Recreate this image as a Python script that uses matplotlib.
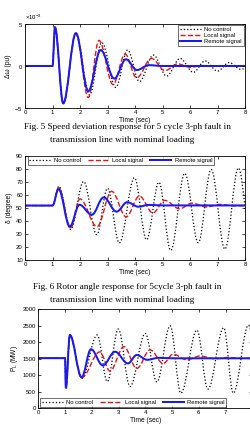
import matplotlib
matplotlib.use('Agg')
import matplotlib.pyplot as plt
from matplotlib.path import Path
from matplotlib.patches import PathPatch
from matplotlib.lines import Line2D
from matplotlib.ticker import ScalarFormatter

plt.rcParams['font.family'] = ['Liberation Sans', 'DejaVu Sans']
plt.rcParams['mathtext.fontset'] = 'custom'
plt.rcParams['mathtext.rm'] = 'Liberation Sans'
plt.rcParams['mathtext.it'] = 'Liberation Sans:italic'

# turning points (time, value)
# Fig. 5 speed deviation (x 1e-3 pu)
dw_nc_t = [0, 1.0, 1.09, 1.39, 1.85, 2.35, 2.79, 3.3, 3.73, 4.16, 4.67, 5.15, 5.64, 6.12, 6.55, 7.0, 7.42, 7.85, 8.3]
dw_nc_v = [0, 0, 4.6, -4.45, 3.9, -3.45, 2.8, -2.55, 1.9, -1.85, 1.3, -1.2, 0.9, -0.75, 0.6, -0.6, 0.4, -0.4, 0.3]
dw_loc_t = [0, 1.0, 1.09, 1.39, 1.85, 2.3, 2.69, 3.2, 3.64, 4.06, 4.6, 5.09, 5.55, 6.0, 6.5, 7.0, 8.3]
dw_loc_v = [0, 0, 4.6, -4.45, 3.9, -3.75, 3.05, -2.2, 1.4, -1.4, 0.9, -0.55, 0.25, -0.15, 0.05, 0, 0]
dw_rem_t = [0, 1.0, 1.09, 1.39, 1.85, 2.3, 2.75, 3.25, 3.67, 4.07, 4.5, 5.0, 8.3]
dw_rem_v = [0, 0, 4.6, -4.45, 3.9, -3.0, 1.9, -1.5, 0.8, -0.48, 0.1, 0, 0]

# Fig. 6 rotor angle (degree)
d_nc_t = [0, 1.0, 1.23, 1.66, 2.13, 2.61, 3.0, 3.43, 3.98, 4.42, 4.87, 5.3, 5.81, 6.3, 6.77, 7.27, 7.76, 8.25]
d_nc_v = [51.7, 51.7, 66.5, 33.2, 70.3, 29.2, 65, 22.8, 73.2, 25.3, 69.7, 17, 76.6, 23, 79.6, 18, 80.7, 17]
d_loc_t = [0, 1.0, 1.23, 1.65, 2.0, 2.62, 3.15, 3.68, 4.16, 4.65, 5.08, 5.62, 6.07, 6.6, 7.1, 7.6, 8.3]
d_loc_v = [51.7, 51.7, 65.5, 34.5, 56.8, 35.4, 62.7, 43, 59, 46, 55.7, 49.2, 53.5, 50.6, 52.6, 51.4, 51.7]
d_rem_t = [0, 1.0, 1.22, 1.63, 1.98, 2.43, 2.86, 3.33, 3.72, 4.12, 4.5, 5.0, 8.3]
d_rem_v = [51.7, 51.7, 64.5, 35.5, 52.3, 44.6, 58, 47, 54.3, 50.8, 52.2, 51.8, 51.8]

# Fig. 7 line power (MW)
p_nc_t = [0, 1.0, 1.03, 1.18, 1.63, 2.2, 2.58, 2.99, 3.43, 4.0, 4.43, 4.93, 5.33, 5.93, 6.34, 6.93, 7.29, 7.86, 8.3]
p_nc_v = [1520, 1520, 610, 2220, 910, 2220, 810, 2400, 660, 2270, 800, 2500, 460, 2370, 580, 2440, 460, 2520, 600]
p_loc_t = [0, 1.0, 1.03, 1.18, 1.62, 2.3, 2.68, 3.2, 3.68, 4.18, 4.67, 5.04, 5.55, 6.05, 6.6, 7.1, 7.6, 8.3]
p_loc_v = [1520, 1520, 610, 2220, 930, 1710, 1130, 1870, 1210, 1770, 1360, 1640, 1470, 1585, 1500, 1540, 1515, 1520]
p_rem_t = [0, 1.0, 1.03, 1.18, 1.62, 1.97, 2.41, 2.87, 3.35, 3.68, 4.07, 4.5, 5.0, 8.3]
p_rem_v = [1520, 1520, 610, 2220, 940, 1790, 1300, 1715, 1360, 1615, 1470, 1530, 1515, 1515]

labels = ['No control', 'Local signal', 'Remote signal']
captions = [
    ['Fig. 5 Speed deviation response for 5 cycle 3-ph fault in',
     'transmission line with nominal loading'],
    ['Fig. 6 Rotor angle response for 5cycle 3-ph fault in',
     'transmission line with nominal loading'],
]

styles = [dict(color='black', ls=':', lw=0.9),
          dict(color='#ee1111', ls='--', lw=1.0),
          dict(color='#1a1aee', ls='-', lw=1.45)]


def smooth_path(t, v, scale=1.0, k=0.364):
    # cubic segments with flat tangents at every turning point
    verts = [(t[0], v[0] * scale)]
    codes = [Path.MOVETO]
    for i in range(1, len(t)):
        d = t[i] - t[i - 1]
        verts += [(t[i - 1] + k * d, v[i - 1] * scale),
                  (t[i] - k * d, v[i] * scale),
                  (t[i], v[i] * scale)]
        codes += [Path.CURVE4] * 3
    return Path(verts, codes)


def draw(ax, series, scale=1.0):
    for (t, v), st in zip(series, styles):
        ax.add_patch(PathPatch(smooth_path(t, v, scale), fill=False,
                               edgecolor=st['color'], linestyle=st['ls'],
                               lw=st['lw'], capstyle='butt'))


def style_axes(ax):
    ax.set_xlim(0, 8)
    ax.set_xticks(range(9))
    ax.tick_params(direction='in', length=2, width=0.5, labelsize=4.3,
                   top=True, right=True, pad=1.5)
    for s in ax.spines.values():
        s.set_linewidth(0.6)
    ax.set_xlabel('Time (sec)', fontsize=4.8, labelpad=1.5)


handles = [Line2D([], [], color=st['color'], ls=st['ls'], lw=st['lw']) for st in styles]

H = 434.0
fig = plt.figure(figsize=(2.5, 4.34), dpi=100)

# Fig. 5
ax1 = fig.add_axes([0.1, 1 - 108 / H, 0.88, 84 / H])
draw(ax1, [(dw_nc_t, dw_nc_v), (dw_loc_t, dw_loc_v), (dw_rem_t, dw_rem_v)], 1e-3)
ax1.set_ylim(-5e-3, 5e-3)
ax1.set_yticks([-5e-3, 0, 5e-3])
fmt = ScalarFormatter(useMathText=True)
fmt.set_powerlimits((-2, 2))
ax1.yaxis.set_major_formatter(fmt)
ax1.yaxis.get_offset_text().set_fontsize(4.3)
style_axes(ax1)
ax1.set_ylabel('Δω (pu)', fontsize=4.8, labelpad=2)
ax1.legend(handles, labels, loc='upper right', fontsize=4.2, frameon=True,
           fancybox=False, edgecolor='black', handlelength=3.6,
           borderpad=0.3, labelspacing=0.15, handletextpad=0.6,
           borderaxespad=0.25).get_frame().set_linewidth(0.5)

# Fig. 6
ax2 = fig.add_axes([0.1, 1 - 259.5 / H, 0.88, 103.5 / H])
draw(ax2, [(d_nc_t, d_nc_v), (d_loc_t, d_loc_v), (d_rem_t, d_rem_v)])
ax2.set_ylim(10, 90)
ax2.set_yticks(range(10, 91, 10))
style_axes(ax2)
ax2.set_ylabel('δ (degree)', fontsize=4.8, labelpad=2)
ax2.legend(handles, labels, loc='upper left', bbox_to_anchor=(0.012, 0.997),
           ncol=3, fontsize=4.2, frameon=True, fancybox=False,
           edgecolor='black', handlelength=3.6, borderpad=0.3,
           handletextpad=0.6, columnspacing=1.2,
           borderaxespad=0).get_frame().set_linewidth(0.5)

# Fig. 7 (runs past the right edge of the page, as in the scan)
ax3 = fig.add_axes([38.3 / 250, 1 - 408.3 / H, 214 / 250, 99 / H])
draw(ax3, [(p_nc_t, p_nc_v), (p_loc_t, p_loc_v), (p_rem_t, p_rem_v)])
ax3.set_ylim(0, 3000)
ax3.set_yticks(range(0, 3001, 500))
style_axes(ax3)
ax3.set_xticklabels([str(i) for i in range(8)] + [''])
ax3.set_ylabel('P$_\\mathregular{L}$ (MW)', fontsize=4.8, labelpad=2)
ax3.legend(handles, labels, loc='lower left', bbox_to_anchor=(0.008, 0.016),
           ncol=3, fontsize=4.2, frameon=True, fancybox=False,
           edgecolor='black', handlelength=3.6, borderpad=0.3,
           handletextpad=0.6, columnspacing=1.2,
           borderaxespad=0).get_frame().set_linewidth(0.5)

# captions between the panels
for cap, ys in zip(captions, [(126.7, 140.0), (286.7, 300.0)]):
    fig.text(0.508, 1 - ys[0] / H, cap[0], ha='center', va='center',
             family='Liberation Serif', fontsize=6.6)
    fig.text(0.49, 1 - ys[1] / H, cap[1], ha='center', va='center',
             family='Liberation Serif', fontsize=6.6)

fig.savefig('out.png', dpi=100)
